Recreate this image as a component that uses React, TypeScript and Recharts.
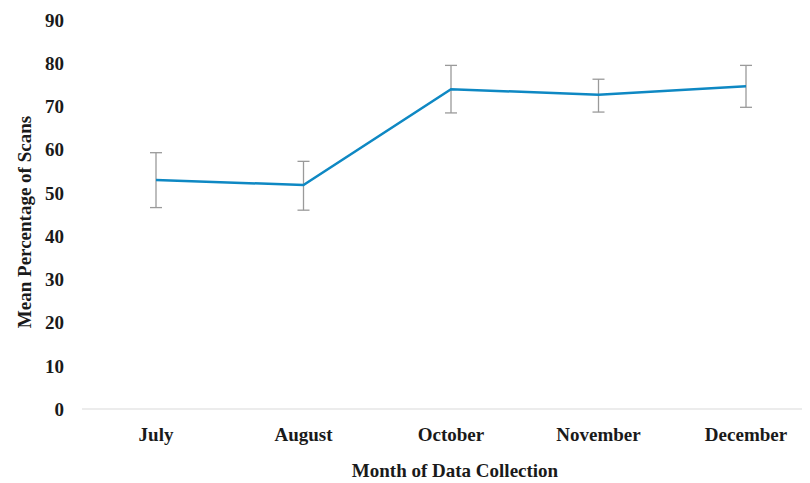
import { LineChart, Line, XAxis, YAxis, ErrorBar } from "recharts";

// Values
const months = ["July", "August", "October", "November", "December"];
const meanPct = [53.0, 51.8, 74.0, 72.7, 74.7];
const errDown = [6.4, 5.8, 5.5, 4.0, 4.9];
const errUp = [6.3, 5.5, 5.5, 3.6, 4.8];
const yTicks = [0, 10, 20, 30, 40, 50, 60, 70, 80, 90];

const FONT = "'Liberation Serif', 'Times New Roman', serif";
const TEXT = "#1a1a1a";
const FS = 19;

const data = months.map((m, i) => ({
  month: m,
  mean: meanPct[i],
  err: [errDown[i], errUp[i]],
}));

export default function App() {
  return (
    <div style={{ width: 802, height: 475, overflow: "hidden" }}>
      <LineChart
        width={820}
        height={475}
        data={data}
        margin={{ top: 12, right: 8, left: 0, bottom: 0 }}
      >
        <XAxis
          dataKey="month"
          height={74}
          padding={{ left: 74, right: 74 }}
          tickLine={false}
          tickSize={0}
          tickMargin={19}
          axisLine={{ stroke: "#d9d9d9", strokeWidth: 1.2 }}
          tick={{ fill: TEXT, fontFamily: FONT, fontSize: FS, fontWeight: 700 }}
          label={{
            content: ({ viewBox }: any) => (
              <text
                x={viewBox.x + viewBox.width / 2 + 4}
                y={469}
                textAnchor="middle"
                fill={TEXT}
                fontFamily={FONT}
                fontSize={FS}
                fontWeight={700}
              >
                Month of Data Collection
              </text>
            ),
          }}
        />
        <YAxis
          width={74}
          domain={[0, 90]}
          ticks={yTicks}
          interval={0}
          axisLine={false}
          tickLine={false}
          tickSize={0}
          tickMargin={18}
          tick={{ fill: TEXT, fontFamily: FONT, fontSize: FS, fontWeight: 700 }}
          label={{
            content: () => (
              <text
                x={23}
                y={214}
                transform="rotate(-90 23 214)"
                textAnchor="middle"
                fill={TEXT}
                fontFamily={FONT}
                fontSize={FS}
                fontWeight={700}
              >
                Mean Percentage of Scans
              </text>
            ),
          }}
        />
        <Line
          type="linear"
          dataKey="mean"
          stroke="#0e88c3"
          strokeWidth={2.5}
          dot={false}
          activeDot={false}
          isAnimationActive={false}
        >
          <ErrorBar
            dataKey="err"
            direction="y"
            width={6}
            stroke="#9a9a9a"
            strokeWidth={1.3}
            isAnimationActive={false}
          />
        </Line>
      </LineChart>
    </div>
  );
}
